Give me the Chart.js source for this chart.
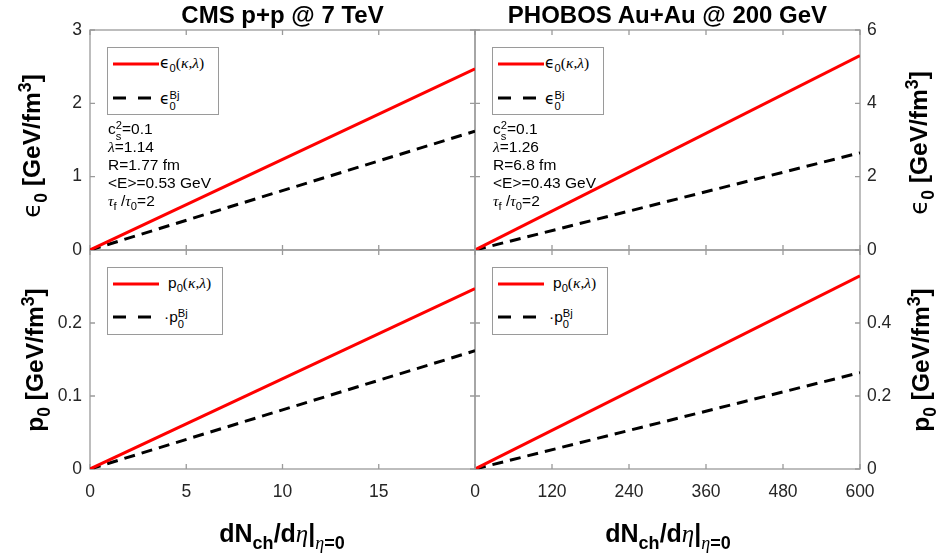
<!DOCTYPE html>
<html><head><meta charset="utf-8">
<script src="https://cdn.jsdelivr.net/npm/chart.js@4/dist/chart.umd.min.js"></script>
<style>
body{margin:0;background:#fff;}
#wrap{position:relative;width:939px;height:557px;overflow:hidden;font-family:"Liberation Sans",Arial,Helvetica,sans-serif;color:#000;}
canvas{position:absolute;left:0;top:0;}
.t{position:absolute;white-space:nowrap;z-index:5;}
.title{font-weight:bold;font-size:24px;text-align:center;width:385px;top:1px;line-height:28px;}
.ylab{font-weight:bold;font-size:24.5px;transform:translate(-50%,-50%) rotate(-90deg);line-height:28px;}
.xlab{font-weight:bold;font-size:25px;transform:translate(-50%,-50%);line-height:28px;}
.m{font-family:"Liberation Serif","DejaVu Serif",serif;font-style:italic;font-weight:normal;}
.s{font-family:"Liberation Serif","DejaVu Serif",serif;font-weight:normal;}
.e{font-family:"DejaVu Sans",sans-serif;font-weight:normal;}
.sb{font-size:0.72em;position:relative;top:0.38em;}
.sp{font-size:0.72em;position:relative;top:-0.5em;}
.st{display:inline-flex;flex-direction:column;font-size:0.72em;line-height:0.95;vertical-align:0.45em;}
.leg{position:absolute;border:1px solid #9a9a9a;background:#fff;box-sizing:border-box;z-index:4;}
.leg svg{position:absolute;left:4px;}
.leg .lt{position:absolute;left:52px;font-size:15.5px;line-height:18px;white-space:nowrap;}
.ann{position:absolute;font-size:15.5px;line-height:18px;z-index:5;white-space:nowrap;}
.ann > div{height:18px;}
</style></head>
<body>
<div id="wrap">
  <div class="t title" style="left:90px;">CMS p+p @ 7 TeV</div>
  <div class="t title" style="left:475px;">PHOBOS Au+Au @ 200 GeV</div>

  <div class="t ylab" style="left:33px;top:146px;"><span class="e">ϵ</span><span class="sb">0</span> [GeV/fm<span class="sp">3</span>]</div>
  <div class="t ylab" style="left:36px;top:360px;">p<span class="sb">0</span> [GeV/fm<span class="sp">3</span>]</div>
  <div class="t ylab" style="left:920px;top:143px;"><span class="e">ϵ</span><span class="sb">0</span> [GeV/fm<span class="sp">3</span>]</div>
  <div class="t ylab" style="left:922px;top:360px;">p<span class="sb">0</span> [GeV/fm<span class="sp">3</span>]</div>

  <div class="t xlab" style="left:282px;top:534px;">dN<span class="sb">ch</span>/d<span class="m">η</span>|<span class="sb"><span class="m">η</span>=0</span></div>
  <div class="t xlab" style="left:668px;top:534px;">dN<span class="sb">ch</span>/d<span class="m">η</span>|<span class="sb"><span class="m">η</span>=0</span></div>

  <!-- legends -->
  <div class="leg" style="left:107px;top:47px;width:112px;height:68px;">
    <svg width="48" height="68" style="top:0"><line x1="1" y1="16" x2="47" y2="16" stroke="#ff0000" stroke-width="3"/><line x1="1" y1="50" x2="47" y2="50" stroke="#000" stroke-width="3" stroke-dasharray="13,12"/></svg>
    <div class="lt" style="top:6px;"><span class="e">ϵ</span><span class="sb">0</span><span class="s">(<i>κ</i>,<i>λ</i>)</span></div>
    <div class="lt" style="top:42px;"><span class="e">ϵ</span><span class="st"><span>Bj</span><span>0</span></span></div>
  </div>
  <div class="leg" style="left:492px;top:47px;width:112px;height:68px;">
    <svg width="48" height="68" style="top:0"><line x1="1" y1="16" x2="47" y2="16" stroke="#ff0000" stroke-width="3"/><line x1="1" y1="50" x2="47" y2="50" stroke="#000" stroke-width="3" stroke-dasharray="13,12"/></svg>
    <div class="lt" style="top:6px;"><span class="e">ϵ</span><span class="sb">0</span><span class="s">(<i>κ</i>,<i>λ</i>)</span></div>
    <div class="lt" style="top:42px;"><span class="e">ϵ</span><span class="st"><span>Bj</span><span>0</span></span></div>
  </div>
  <div class="leg" style="left:107px;top:267px;width:116px;height:68px;">
    <svg width="48" height="68" style="top:0"><line x1="1" y1="16" x2="47" y2="16" stroke="#ff0000" stroke-width="3"/><line x1="1" y1="49" x2="47" y2="49" stroke="#000" stroke-width="3" stroke-dasharray="13,12"/></svg>
    <div class="lt" style="top:6px;left:60px;">p<span class="sb">0</span><span class="s">(<i>κ</i>,<i>λ</i>)</span></div>
    <div class="lt" style="top:40px;left:56px;">·p<span class="st"><span>Bj</span><span>0</span></span></div>
  </div>
  <div class="leg" style="left:492px;top:267px;width:116px;height:68px;">
    <svg width="48" height="68" style="top:0"><line x1="1" y1="16" x2="47" y2="16" stroke="#ff0000" stroke-width="3"/><line x1="1" y1="49" x2="47" y2="49" stroke="#000" stroke-width="3" stroke-dasharray="13,12"/></svg>
    <div class="lt" style="top:6px;left:60px;">p<span class="sb">0</span><span class="s">(<i>κ</i>,<i>λ</i>)</span></div>
    <div class="lt" style="top:40px;left:56px;">·p<span class="st"><span>Bj</span><span>0</span></span></div>
  </div>

  <!-- annotations -->
  <div class="ann" style="left:108px;top:120px;">
    <div>c<span class="st"><span>2</span><span>s</span></span>=0.1</div>
    <div><span class="m">λ</span>=1.14</div>
    <div>R=1.77 fm</div>
    <div>&lt;E&gt;=0.53 GeV</div>
    <div><span class="m">τ</span><span class="sb">f</span> /<span class="m">τ</span><span class="sb">0</span>=2</div>
  </div>
  <div class="ann" style="left:493px;top:120px;">
    <div>c<span class="st"><span>2</span><span>s</span></span>=0.1</div>
    <div><span class="m">λ</span>=1.26</div>
    <div>R=6.8 fm</div>
    <div>&lt;E&gt;=0.43 GeV</div>
    <div><span class="m">τ</span><span class="sb">f</span> /<span class="m">τ</span><span class="sb">0</span>=2</div>
  </div>
</div>
<script>
// ---- data ----
const xCMS = [0, 20];
const epsKappaCMS = [0, 2.47];
const epsBjCMS = [0, 1.62];
const pKappaCMS = [0, 0.247];
const pBjCMS = [0, 0.162];

const xPHOBOS = [0, 600];
const epsKappaPHOBOS = [0, 5.30];
const epsBjPHOBOS = [0, 2.65];
const pKappaPHOBOS = [0, 0.529];
const pBjPHOBOS = [0, 0.264];

// ---- ticks ----
const xTicksCMS = [0, 5, 10, 15, 20];
const xTickLabelsCMS = ['0', '5', '10', '15', ''];
const xTicksPHOBOS = [0, 120, 240, 360, 480, 600];
const xTickLabelsPHOBOS = ['0', '120', '240', '360', '480', '600'];
const yTicksEpsCMS = [0, 1, 2, 3];
const yTickLabelsEpsCMS = ['0', '1', '2', '3'];
const yTicksPCMS = [0, 0.1, 0.2, 0.3];
const yTickLabelsPCMS = ['0', '0.1', '0.2', ''];
const yTicksEpsPHOBOS = [0, 2, 4, 6];
const yTickLabelsEpsPHOBOS = ['0', '2', '4', '6'];
const yTicksPPHOBOS = [0, 0.2, 0.4, 0.6];
const yTickLabelsPPHOBOS = ['0', '0.2', '0.4', ''];

const W = 939, H = 557, AX = 60;
const wrap = document.getElementById('wrap');
const tickFont = {family: '"Liberation Sans", Arial, sans-serif', size: 17.5};

const framePlugin = {
  id: 'frame',
  beforeDatasetsDraw(chart) {
    const {ctx, chartArea: a, scales: {x, y}} = chart;
    ctx.save();
    ctx.strokeStyle = '#9a9a9a';
    ctx.lineWidth = 1.3;
    ctx.strokeRect(a.left, a.top, a.right - a.left, a.bottom - a.top);
    ctx.beginPath();
    x.ticks.forEach(t => {
      const px = x.getPixelForValue(t.value);
      ctx.moveTo(px, a.bottom); ctx.lineTo(px, a.bottom - 5);
      ctx.moveTo(px, a.top); ctx.lineTo(px, a.top + 5);
    });
    y.ticks.forEach(t => {
      const py = y.getPixelForValue(t.value);
      ctx.moveTo(a.left, py); ctx.lineTo(a.left + 5, py);
      ctx.moveTo(a.right, py); ctx.lineTo(a.right - 5, py);
    });
    ctx.stroke();
    ctx.restore();
  }
};

function zeroPad(s) { s.paddingLeft = s.paddingRight = s.paddingTop = s.paddingBottom = 0; }

function panel(c) {
  const cv = document.createElement('canvas');
  cv.width = W; cv.height = H;
  wrap.insertBefore(cv, wrap.firstChild);
  const right = c.yPos === 'right';
  const pad = {
    top: c.T,
    bottom: H - c.B - (c.showX ? AX : 0),
    left: right ? c.L : c.L - AX,
    right: right ? W - c.R - AX : W - c.R
  };
  new Chart(cv, {
    type: 'line',
    data: {datasets: [
      {data: c.x.map((v, i) => ({x: v, y: c.red[i]})), borderColor: '#ff0000', borderWidth: 3, pointRadius: 0, tension: 0},
      {data: c.x.map((v, i) => ({x: v, y: c.black[i]})), borderColor: '#000000', borderWidth: 3, borderDash: [11, 7], pointRadius: 0, tension: 0}
    ]},
    options: {
      responsive: false, animation: false, devicePixelRatio: 1,
      layout: {padding: pad},
      plugins: {legend: {display: false}, tooltip: {enabled: false}},
      scales: {
        x: {
          type: 'linear', position: 'bottom', min: c.xTicks[0], max: c.xTicks[c.xTicks.length - 1],
          grid: {display: false, drawTicks: false}, border: {display: false},
          afterBuildTicks: s => { s.ticks = c.xTicks.map(v => ({value: v})); },
          ticks: {display: c.showX, padding: 13, font: tickFont, color: '#262626', maxRotation: 0, autoSkip: false,
                  callback: (v, i) => c.xLabels[i]},
          afterFit: s => { s.height = c.showX ? AX : 0; zeroPad(s); }
        },
        y: {
          type: 'linear', position: c.yPos, min: c.yTicks[0], max: c.yTicks[c.yTicks.length - 1],
          grid: {display: false, drawTicks: false}, border: {display: false},
          afterBuildTicks: s => { s.ticks = c.yTicks.map(v => ({value: v})); },
          ticks: {padding: right ? 7 : 8, font: tickFont, color: '#262626', autoSkip: false,
                  callback: (v, i) => c.yLabels[i]},
          afterFit: s => { s.width = AX; zeroPad(s); }
        }
      }
    },
    plugins: [framePlugin]
  });
}

panel({L: 90, T: 30, R: 475, B: 250, yPos: 'left', showX: false, x: xCMS, red: epsKappaCMS, black: epsBjCMS,
       xTicks: xTicksCMS, xLabels: xTickLabelsCMS, yTicks: yTicksEpsCMS, yLabels: yTickLabelsEpsCMS});
panel({L: 90, T: 250, R: 475, B: 469, yPos: 'left', showX: true, x: xCMS, red: pKappaCMS, black: pBjCMS,
       xTicks: xTicksCMS, xLabels: xTickLabelsCMS, yTicks: yTicksPCMS, yLabels: yTickLabelsPCMS});
panel({L: 475, T: 30, R: 860, B: 250, yPos: 'right', showX: false, x: xPHOBOS, red: epsKappaPHOBOS, black: epsBjPHOBOS,
       xTicks: xTicksPHOBOS, xLabels: xTickLabelsPHOBOS, yTicks: yTicksEpsPHOBOS, yLabels: yTickLabelsEpsPHOBOS});
panel({L: 475, T: 250, R: 860, B: 469, yPos: 'right', showX: true, x: xPHOBOS, red: pKappaPHOBOS, black: pBjPHOBOS,
       xTicks: xTicksPHOBOS, xLabels: xTickLabelsPHOBOS, yTicks: yTicksPPHOBOS, yLabels: yTickLabelsPPHOBOS});
</script>
</body></html>
